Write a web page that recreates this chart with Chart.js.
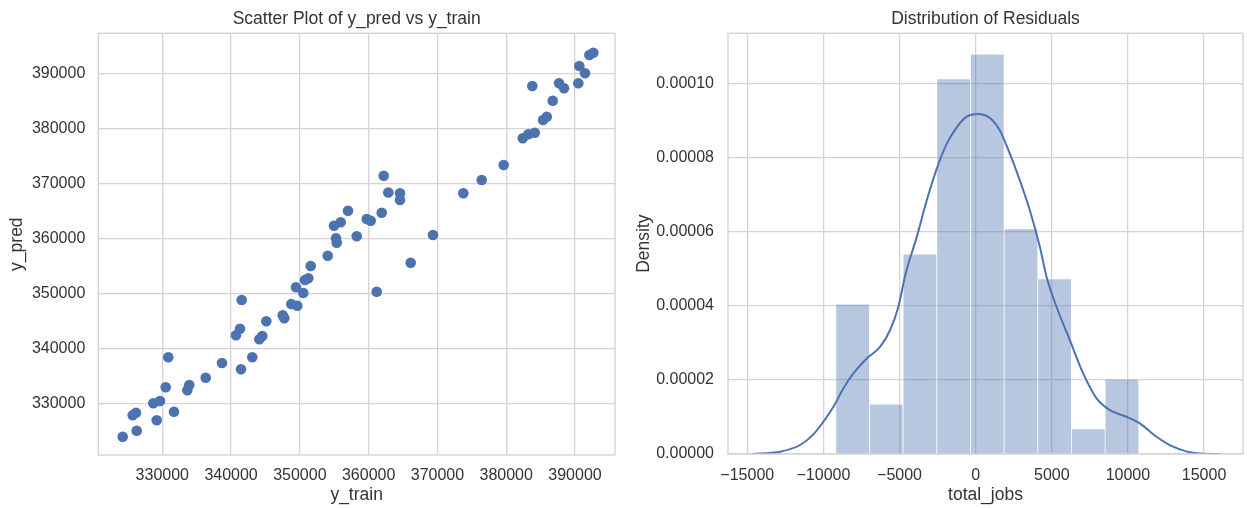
<!DOCTYPE html>
<html>
<head>
<meta charset="utf-8">
<script src="https://cdn.jsdelivr.net/npm/chart.js@4.4.1/dist/chart.umd.min.js"></script>
<style>
  html, body { margin: 0; padding: 0; background: #ffffff; }
  #wrap { position: relative; width: 1247px; height: 508px; overflow: hidden; }
  canvas { position: absolute; top: 0; }
</style>
</head>
<body>
<div id="wrap">
  <canvas id="scatter" width="623" height="508" style="left:0px"></canvas>
  <canvas id="resid" width="624" height="508" style="left:623px"></canvas>
</div>
<script>
// ---- scatter: actual vs predicted ----
const yTrain = [
  324243, 326278, 329186, 331701, 325696, 326176, 328691, 329666, 330494, 330872,
  333635, 333926, 336310, 338680, 341442, 343085, 341544, 340715, 341297, 344103,
  344539, 345121, 347505, 347738, 348755, 349628, 349439, 350500, 350747, 351227,
  351576, 354048, 355254, 355356, 357000, 354963, 355937, 358264, 359718, 360299,
  361899, 362190, 362858, 364559, 364559, 369357, 366115, 361172, 373762, 376437,
  379636, 382399, 383213, 384144, 383795, 385351, 385889, 386761, 387677, 388404,
  390483, 390629, 391458, 392083, 392664
];
const yPred = [
  324067, 325156, 327043, 328603, 327950, 328422, 330127, 330544, 333030, 338473,
  332486, 333447, 334772, 337439, 336296, 338473, 348869, 342464, 343662, 341739,
  342337, 345004, 346093, 345549, 348143, 347835, 351173, 350139, 352497, 352806,
  355037, 356906, 360063, 359265, 365070, 362349, 362966, 360426, 363565, 363257,
  364708, 371420, 368373, 368228, 367012, 360662, 355636, 350375, 368228, 370640,
  373362, 378206, 378932, 379222, 387695, 381526, 382125, 385028, 388185, 387278,
  388185, 391324, 389999, 393320, 393737
];
const scatterXTicks = [330000, 340000, 350000, 360000, 370000, 380000, 390000];
const scatterYTicks = [330000, 340000, 350000, 360000, 370000, 380000, 390000];

// ---- residual histogram (density) and KDE curve ----
const binCenters = [-8080, -5870, -3659, -1448, 764, 2975, 5186, 7397, 9608];
const binDensity = [0.0000405, 0.0000135, 0.000054, 0.0001013, 0.000108, 0.0000608, 0.0000473, 0.0000068, 0.0000203];
const kdeX = [
  -14699, -12842, -11529, -10657, -10001, -9344, -8688, -8032, -7153, -6280,
  -5624, -5079, -4607, -3872, -3215, -2559, -1903, -1247, -591, 105,
  938, 1594, 2251, 2907, 3563, 4219, 4659, 5315, 6188, 7061,
  7940, 8813, 9909, 10781, 11877, 12967, 14502, 16031
];
const kdeY = [
  0, 0.00000062, 0.00000243, 0.00000531, 0.0000087, 0.00001275, 0.00001771, 0.00002175, 0.00002579, 0.00002892,
  0.00003342, 0.0000397, 0.0000486, 0.00005856, 0.00006845, 0.000077, 0.00008373, 0.00008821, 0.00009109, 0.00009182,
  0.00009074, 0.00008732, 0.00008104, 0.00007384, 0.00006576, 0.00005587, 0.00004778, 0.0000397, 0.00003072, 0.00002175,
  0.00001501, 0.00001186, 0.00001005, 0.00000827, 0.00000466, 0.00000197, 0.00000019, 0
];
const residXTicks = [-15000, -10000, -5000, 0, 5000, 10000, 15000];
const residYTicks = [0, 0.00002, 0.00004, 0.00006, 0.00008, 0.00010];

// ---- shared styling ----
const BLUE = '#4C72B0';
const GRID = '#d4d4d4';
const TEXT = '#333333';
Chart.defaults.font.family = "'Liberation Sans', Arial, sans-serif";
Chart.defaults.color = TEXT;

const tickFont = { size: 16 };
const labelFont = { size: 17.5 };

// axes frame drawn on top of the marks, like matplotlib spines
const framePlugin = {
  id: 'frame',
  afterDatasetsDraw(chart) {
    const { ctx, chartArea: a } = chart;
    ctx.save();
    ctx.strokeStyle = GRID;
    ctx.lineWidth = 1.4;
    ctx.strokeRect(a.left, a.top, a.right - a.left, a.bottom - a.top);
    ctx.restore();
  }
};

function fixedTicks(values) {
  return (scale) => { scale.ticks = values.map(v => ({ value: v })); };
}

function axis(opts) {
  return Object.assign({
    type: 'linear',
    offset: false,
    border: { display: false },
    grid: { color: GRID, lineWidth: 1.3, drawTicks: false, offset: false },
    ticks: { font: tickFont, color: TEXT }
  }, opts);
}

// ---- left panel ----
new Chart(document.getElementById('scatter'), {
  type: 'scatter',
  data: {
    datasets: [{
      data: yTrain.map((x, i) => ({ x: x, y: yPred[i] })),
      backgroundColor: BLUE,
      borderWidth: 0,
      pointRadius: 5.3,
      pointHoverRadius: 5.3
    }]
  },
  options: {
    responsive: false,
    animation: false,
    events: [],
    layout: { padding: { left: 0, right: 8, top: 0, bottom: 0 } },
    plugins: {
      legend: { display: false },
      tooltip: { enabled: false },
      title: {
        display: true,
        text: 'Scatter Plot of y_pred vs y_train',
        fullSize: false,
        font: { size: 17.5, weight: 'normal' },
        color: TEXT,
        padding: { top: 9, bottom: 3.3 }
      }
    },
    scales: {
      x: axis({
        min: 320698, max: 395814,
        afterBuildTicks: fixedTicks(scatterXTicks),
        afterFit: (s) => { s.height = 53; },
        ticks: { font: tickFont, color: TEXT, padding: 11, maxRotation: 0, callback: (v) => String(v) },
        title: { display: true, text: 'y_train', font: labelFont, color: TEXT, padding: { top: 0, bottom: 2.5 } }
      }),
      y: axis({
        min: 320744, max: 397260,
        afterBuildTicks: fixedTicks(scatterYTicks),
        afterFit: (s) => { s.width = 98.3; },
        ticks: { font: tickFont, color: TEXT, padding: 13, callback: (v) => String(v) },
        title: { display: true, text: 'y_pred', font: labelFont, color: TEXT, padding: { top: 6.5, bottom: 0 } }
      })
    }
  },
  plugins: [framePlugin]
});

// ---- right panel ----
const minus = (v) => (v < 0 ? '\u2212' + Math.abs(v) : String(v));

new Chart(document.getElementById('resid'), {
  type: 'bar',
  data: {
    datasets: [
      {
        type: 'line',
        order: 0,
        data: kdeX.map((x, i) => ({ x: x, y: kdeY[i] })),
        borderColor: BLUE,
        borderWidth: 2,
        pointRadius: 0,
        fill: false,
        cubicInterpolationMode: 'monotone'
      },
      {
        type: 'bar',
        order: 1,
        data: binCenters.map((x, i) => ({ x: x, y: binDensity[i] })),
        backgroundColor: 'rgba(76, 114, 176, 0.4)',
        borderColor: 'rgba(255, 255, 255, 0.55)',
        borderWidth: { left: 0.7, right: 0.7, top: 0.8, bottom: 0 },
        borderSkipped: false,
        barPercentage: 1,
        categoryPercentage: 1,
        grouped: false
      }
    ]
  },
  options: {
    responsive: false,
    animation: false,
    events: [],
    layout: { padding: { left: 0, right: 4, top: 0, bottom: 0 } },
    plugins: {
      legend: { display: false },
      tooltip: { enabled: false },
      title: {
        display: true,
        text: 'Distribution of Residuals',
        fullSize: false,
        font: { size: 17.5, weight: 'normal' },
        color: TEXT,
        padding: { top: 9, bottom: 3.3 }
      }
    },
    scales: {
      x: axis({
        min: -16266, max: 17559,
        afterBuildTicks: fixedTicks(residXTicks),
        afterFit: (s) => { s.height = 54; },
        ticks: { font: tickFont, color: TEXT, padding: 12, maxRotation: 0, callback: minus },
        title: { display: true, text: 'total_jobs', font: labelFont, color: TEXT, padding: { top: 0, bottom: 2.5 } }
      }),
      y: axis({
        min: 0, max: 0.0001136,
        afterBuildTicks: fixedTicks(residYTicks),
        afterFit: (s) => { s.width = 105; },
        ticks: { font: tickFont, color: TEXT, padding: 14, callback: (v) => Number(v).toFixed(5) },
        title: { display: true, text: 'Density', font: labelFont, color: TEXT, padding: { top: 10.5, bottom: 0 } }
      })
    }
  },
  plugins: [framePlugin]
});
</script>
</body>
</html>
